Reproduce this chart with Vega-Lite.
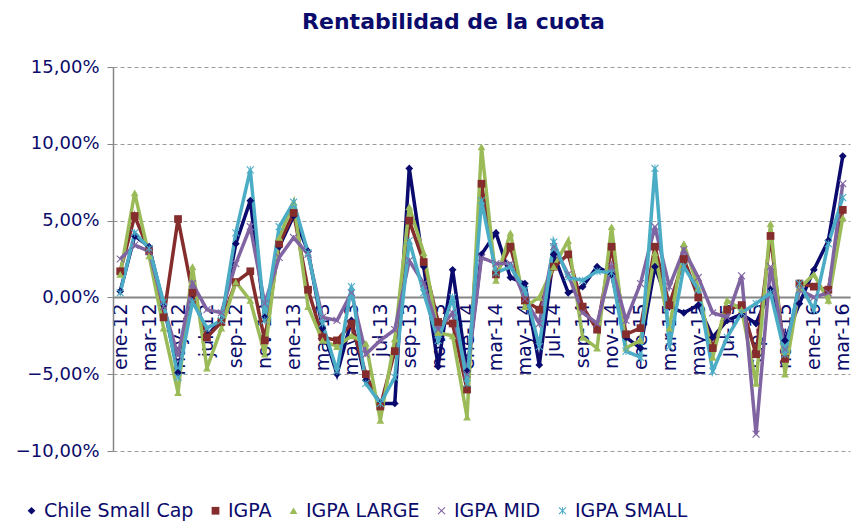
{
  "$schema": "https://vega.github.io/schema/vega-lite/v6.json",
  "width": 737,
  "height": 384,
  "autosize": {"type": "none"},
  "padding": {"left": 113, "top": 67, "right": 2, "bottom": 72},
  "background": "white",
  "title": {
    "text": "Rentabilidad de la cuota",
    "font": "DejaVu Sans",
    "fontSize": 22,
    "fontWeight": "bold",
    "color": "#0b0b6b",
    "anchor": "middle",
    "dx": -28,
    "offset": 24
  },
  "config": {
    "view": {"stroke": null},
    "axis": {"labelFont": "DejaVu Sans", "labelColor": "#0b0b6b"},
    "legend": {"labelFont": "DejaVu Sans", "labelColor": "#0b0b6b"}
  },
  "data": {
    "values": [
      {"m": "ene-12", "Chile Small Cap": 0.4, "IGPA": 1.7, "IGPA LARGE": 1.5, "IGPA MID": 2.5, "IGPA SMALL": 0.3},
      {"m": "feb-12", "Chile Small Cap": 4.0, "IGPA": 5.3, "IGPA LARGE": 6.8, "IGPA MID": 3.4, "IGPA SMALL": 4.2},
      {"m": "mar-12", "Chile Small Cap": 3.3, "IGPA": 3.0, "IGPA LARGE": 2.7, "IGPA MID": 3.0, "IGPA SMALL": 3.2},
      {"m": "abr-12", "Chile Small Cap": -0.5, "IGPA": -1.3, "IGPA LARGE": -2.0, "IGPA MID": -0.6, "IGPA SMALL": -0.3},
      {"m": "may-12", "Chile Small Cap": -4.9, "IGPA": 5.1, "IGPA LARGE": -6.2, "IGPA MID": -3.8, "IGPA SMALL": -5.2},
      {"m": "jun-12", "Chile Small Cap": 0.2, "IGPA": 0.3, "IGPA LARGE": 2.0, "IGPA MID": 0.9, "IGPA SMALL": -0.3},
      {"m": "jul-12", "Chile Small Cap": -2.5, "IGPA": -2.6, "IGPA LARGE": -4.6, "IGPA MID": -0.8, "IGPA SMALL": -2.0},
      {"m": "ago-12", "Chile Small Cap": -1.5, "IGPA": -1.6, "IGPA LARGE": -2.0, "IGPA MID": -1.0, "IGPA SMALL": -1.5},
      {"m": "sep-12", "Chile Small Cap": 3.5, "IGPA": 1.0, "IGPA LARGE": 1.0, "IGPA MID": 2.2, "IGPA SMALL": 4.2},
      {"m": "oct-12", "Chile Small Cap": 6.3, "IGPA": 1.7, "IGPA LARGE": -0.2, "IGPA MID": 4.6, "IGPA SMALL": 8.3},
      {"m": "nov-12", "Chile Small Cap": -1.3, "IGPA": -2.8, "IGPA LARGE": -3.7, "IGPA MID": -0.4, "IGPA SMALL": -1.5},
      {"m": "dic-12", "Chile Small Cap": 3.3, "IGPA": 3.5, "IGPA LARGE": 3.9, "IGPA MID": 2.6, "IGPA SMALL": 4.6},
      {"m": "ene-13", "Chile Small Cap": 5.3, "IGPA": 5.5, "IGPA LARGE": 6.2, "IGPA MID": 3.9, "IGPA SMALL": 6.2},
      {"m": "feb-13", "Chile Small Cap": 3.0, "IGPA": 0.5, "IGPA LARGE": -0.6, "IGPA MID": 2.8, "IGPA SMALL": 2.9},
      {"m": "mar-13", "Chile Small Cap": -2.0, "IGPA": -2.6, "IGPA LARGE": -2.8, "IGPA MID": -1.3, "IGPA SMALL": -1.7},
      {"m": "abr-13", "Chile Small Cap": -5.0, "IGPA": -2.8, "IGPA LARGE": -3.2, "IGPA MID": -1.5, "IGPA SMALL": -4.8},
      {"m": "may-13", "Chile Small Cap": -1.5, "IGPA": -1.7, "IGPA LARGE": -2.5, "IGPA MID": 0.3, "IGPA SMALL": 0.7},
      {"m": "jun-13", "Chile Small Cap": -5.4, "IGPA": -5.0, "IGPA LARGE": -3.0, "IGPA MID": -3.7, "IGPA SMALL": -5.6},
      {"m": "jul-13", "Chile Small Cap": -6.9, "IGPA": -7.1, "IGPA LARGE": -8.0, "IGPA MID": -2.8, "IGPA SMALL": -6.9},
      {"m": "ago-13", "Chile Small Cap": -6.9, "IGPA": -3.5, "IGPA LARGE": -2.7, "IGPA MID": -2.1, "IGPA SMALL": -5.2},
      {"m": "sep-13", "Chile Small Cap": 8.4, "IGPA": 5.0, "IGPA LARGE": 5.9, "IGPA MID": 2.4, "IGPA SMALL": 3.7},
      {"m": "oct-13", "Chile Small Cap": 2.0, "IGPA": 2.3, "IGPA LARGE": 2.9, "IGPA MID": 0.9, "IGPA SMALL": 0.3},
      {"m": "nov-13", "Chile Small Cap": -4.5, "IGPA": -1.6, "IGPA LARGE": -2.3, "IGPA MID": -2.1, "IGPA SMALL": -2.8},
      {"m": "dic-13", "Chile Small Cap": 1.8, "IGPA": -1.7, "IGPA LARGE": -2.5, "IGPA MID": -1.0, "IGPA SMALL": 0.0},
      {"m": "ene-14", "Chile Small Cap": -4.8, "IGPA": -6.0, "IGPA LARGE": -7.8, "IGPA MID": -5.0, "IGPA SMALL": -5.6},
      {"m": "feb-14", "Chile Small Cap": 2.8, "IGPA": 7.4, "IGPA LARGE": 9.8, "IGPA MID": 2.6, "IGPA SMALL": 6.3},
      {"m": "mar-14", "Chile Small Cap": 4.2, "IGPA": 1.5, "IGPA LARGE": 1.1, "IGPA MID": 2.2, "IGPA SMALL": 1.6},
      {"m": "abr-14", "Chile Small Cap": 1.3, "IGPA": 3.3, "IGPA LARGE": 4.2, "IGPA MID": 2.2, "IGPA SMALL": 2.0},
      {"m": "may-14", "Chile Small Cap": 0.9, "IGPA": -0.2, "IGPA LARGE": -0.6, "IGPA MID": -0.1, "IGPA SMALL": 0.5},
      {"m": "jun-14", "Chile Small Cap": -4.4, "IGPA": -0.8, "IGPA LARGE": 0.0, "IGPA MID": -1.7, "IGPA SMALL": -3.2},
      {"m": "jul-14", "Chile Small Cap": 2.8, "IGPA": 2.0, "IGPA LARGE": 2.0, "IGPA MID": 3.3, "IGPA SMALL": 3.6},
      {"m": "ago-14", "Chile Small Cap": 0.3, "IGPA": 2.8, "IGPA LARGE": 3.7, "IGPA MID": 1.5, "IGPA SMALL": 1.3},
      {"m": "sep-14", "Chile Small Cap": 0.7, "IGPA": -0.6, "IGPA LARGE": -2.6, "IGPA MID": -1.0, "IGPA SMALL": 1.1},
      {"m": "oct-14", "Chile Small Cap": 2.0, "IGPA": -2.1, "IGPA LARGE": -3.3, "IGPA MID": -1.7, "IGPA SMALL": 1.7},
      {"m": "nov-14", "Chile Small Cap": 1.5, "IGPA": 3.3, "IGPA LARGE": 4.6, "IGPA MID": 2.0, "IGPA SMALL": 1.6},
      {"m": "dic-14", "Chile Small Cap": -2.6, "IGPA": -2.4, "IGPA LARGE": -3.3, "IGPA MID": -1.5, "IGPA SMALL": -3.5},
      {"m": "ene-15", "Chile Small Cap": -3.3, "IGPA": -2.0, "IGPA LARGE": -2.8, "IGPA MID": 0.9, "IGPA SMALL": -3.9},
      {"m": "feb-15", "Chile Small Cap": 2.0, "IGPA": 3.3, "IGPA LARGE": 2.9, "IGPA MID": 4.6, "IGPA SMALL": 8.4},
      {"m": "mar-15", "Chile Small Cap": -0.6, "IGPA": -0.5, "IGPA LARGE": -2.0, "IGPA MID": 0.7, "IGPA SMALL": -3.2},
      {"m": "abr-15", "Chile Small Cap": -1.0, "IGPA": 2.5, "IGPA LARGE": 3.5, "IGPA MID": 3.1, "IGPA SMALL": 2.0},
      {"m": "may-15", "Chile Small Cap": -0.5, "IGPA": 0.0, "IGPA LARGE": 0.6, "IGPA MID": 1.3, "IGPA SMALL": 0.5},
      {"m": "jun-15", "Chile Small Cap": -2.6, "IGPA": -3.3, "IGPA LARGE": -3.9, "IGPA MID": -1.0, "IGPA SMALL": -4.8},
      {"m": "jul-15", "Chile Small Cap": -1.5, "IGPA": -0.8, "IGPA LARGE": -0.2, "IGPA MID": -1.3, "IGPA SMALL": -2.6},
      {"m": "ago-15", "Chile Small Cap": -1.1, "IGPA": -0.5, "IGPA LARGE": -0.8, "IGPA MID": 1.4, "IGPA SMALL": -1.0},
      {"m": "sep-15", "Chile Small Cap": -1.7, "IGPA": -3.7, "IGPA LARGE": -5.6, "IGPA MID": -8.9, "IGPA SMALL": -0.4},
      {"m": "oct-15", "Chile Small Cap": 0.5, "IGPA": 4.0, "IGPA LARGE": 4.8, "IGPA MID": 2.0, "IGPA SMALL": 0.3},
      {"m": "nov-15", "Chile Small Cap": -2.8, "IGPA": -4.0, "IGPA LARGE": -5.0, "IGPA MID": -3.4, "IGPA SMALL": -3.7},
      {"m": "dic-15", "Chile Small Cap": -0.4, "IGPA": 0.9, "IGPA LARGE": 0.6, "IGPA MID": 0.5, "IGPA SMALL": 0.9},
      {"m": "ene-16", "Chile Small Cap": 1.8, "IGPA": 0.7, "IGPA LARGE": 1.5, "IGPA MID": 0.0, "IGPA SMALL": -0.8},
      {"m": "feb-16", "Chile Small Cap": 3.7, "IGPA": 0.5, "IGPA LARGE": -0.2, "IGPA MID": 0.3, "IGPA SMALL": 3.5},
      {"m": "mar-16", "Chile Small Cap": 9.2, "IGPA": 5.7, "IGPA LARGE": 5.2, "IGPA MID": 7.4, "IGPA SMALL": 6.5}
    ]
  },
  "encoding": {
    "x": {
      "field": "m",
      "type": "ordinal",
      "sort": null,
      "scale": {"type": "point", "padding": 0.5},
      "axis": {
        "title": null,
        "values": ["ene-12", "mar-12", "may-12", "jul-12", "sep-12", "nov-12", "ene-13", "mar-13", "may-13", "jul-13", "sep-13", "nov-13", "ene-14", "mar-14", "may-14", "jul-14", "sep-14", "nov-14", "ene-15", "mar-15", "may-15", "jul-15", "sep-15", "nov-15", "ene-16", "mar-16"],
        "labelAngle": -90,
        "labelFontSize": 19,
        "labelPadding": 6,
        "ticks": false,
        "offset": -154,
        "domainColor": "#868686",
        "domainWidth": 2,
        "grid": false,
        "zindex": 0
      }
    },
    "y": {
      "field": "valor",
      "type": "quantitative",
      "scale": {"domain": [-10, 15], "nice": false},
      "axis": {
        "title": null,
        "values": [-10, -5, 0, 5, 10, 15],
        "labelExpr": "replace(format(datum.value, '.2f'), '.', ',') + '%'",
        "labelFontSize": 18,
        "labelPadding": 8,
        "tickSize": 6,
        "tickColor": "#868686",
        "domainColor": "#868686",
        "domainWidth": 1.5,
        "grid": true,
        "gridColor": "#9a9a9a",
        "gridDash": [4, 3],
        "gridWidth": 1,
        "zindex": 0
      }
    }
  },
  "layer": [
    {
      "transform": [
        {"fold": ["Chile Small Cap", "IGPA", "IGPA LARGE", "IGPA MID", "IGPA SMALL"], "as": ["serie", "valor"]}
      ],
      "mark": {"type": "line", "strokeWidth": 3.5},
      "encoding": {
        "color": {
          "field": "serie",
          "type": "nominal",
          "scale": {
            "domain": ["Chile Small Cap", "IGPA", "IGPA LARGE", "IGPA MID", "IGPA SMALL"],
            "range": ["#0a0a6e", "#852c2c", "#9bbb59", "#8064a2", "#4bacc6"]
          },
          "legend": {
            "title": null,
            "orient": "none",
            "legendX": -91,
            "legendY": 434,
            "direction": "horizontal",
            "columns": 5,
            "columnPadding": 12,
            "symbolType": "stroke",
            "symbolSize": 2500,
            "symbolStrokeWidth": 0,
            "labelFontSize": 19,
            "labelOffset": 3,
            "encode": {
              "symbols": {
                "update": {
                  "shape": {"signal": "datum.value == 'Chile Small Cap' ? 'M-1,-0.08L1,-0.08L1,0.08L-1,0.08ZM0,-0.2L0.14,0L0,0.2L-0.14,0Z' : datum.value == 'IGPA' ? 'M-1,-0.08L1,-0.08L1,0.08L-1,0.08ZM-0.19,-0.19L0.19,-0.19L0.19,0.19L-0.19,0.19Z' : datum.value == 'IGPA LARGE' ? 'M-1,-0.08L1,-0.08L1,0.08L-1,0.08ZM0,-0.26L0.24,0.16L-0.24,0.16Z' : datum.value == 'IGPA MID' ? 'M-1,-0.08L1,-0.08L1,0.08L-1,0.08ZM-0.2,-0.16L-0.16,-0.2L0,-0.04L0.16,-0.2L0.2,-0.16L0.04,0L0.2,0.16L0.16,0.2L0,0.04L-0.16,0.2L-0.2,0.16L-0.04,0Z' : 'M-1,-0.08L1,-0.08L1,0.08L-1,0.08ZM-0.2,-0.16L-0.16,-0.2L0,-0.04L0.16,-0.2L0.2,-0.16L0.04,0L0.2,0.16L0.16,0.2L0,0.04L-0.16,0.2L-0.2,0.16L-0.04,0ZM-0.03,-0.2L0.03,-0.2L0.03,0.2L-0.03,0.2Z'"},
                  "size": {"value": 2500},
                  "fill": {"signal": "scale('color', datum.value)"},
                  "fillOpacity": {"value": 1},
                  "stroke": {"value": "transparent"},
                  "strokeWidth": {"value": 0},
                  "opacity": {"value": 1}
                }
              }
            }
          }
        }
      }
    },
    {
      "transform": [
        {"fold": ["Chile Small Cap", "IGPA", "IGPA LARGE", "IGPA MID", "IGPA SMALL"], "as": ["serieP", "valor"]}
      ],
      "mark": {"type": "point", "filled": true, "opacity": 1},
      "encoding": {
        "fill": {
          "field": "serieP",
          "type": "nominal",
          "scale": {
            "domain": ["Chile Small Cap", "IGPA", "IGPA LARGE", "IGPA MID", "IGPA SMALL"],
            "range": ["#0a0a6e", "#852c2c", "#9bbb59", "#8064a2", "#4bacc6"]
          },
          "legend": null
        },
        "shape": {
          "field": "serieP",
          "type": "nominal",
          "scale": {
            "domain": ["Chile Small Cap", "IGPA", "IGPA LARGE", "IGPA MID", "IGPA SMALL"],
            "range": ["diamond", "square", "triangle-up", "M-1,-0.8L-0.8,-1L0,-0.2L0.8,-1L1,-0.8L0.2,0L1,0.8L0.8,1L0,0.2L-0.8,1L-1,0.8L-0.2,0Z", "M-1,-0.8L-0.8,-1L0,-0.2L0.8,-1L1,-0.8L0.2,0L1,0.8L0.8,1L0,0.2L-0.8,1L-1,0.8L-0.2,0ZM-0.12,-1L0.12,-1L0.12,1L-0.12,1Z"]
          },
          "legend": null
        },
        "size": {
          "field": "serieP",
          "type": "nominal",
          "scale": {
            "domain": ["Chile Small Cap", "IGPA", "IGPA LARGE", "IGPA MID", "IGPA SMALL"],
            "range": [60, 60, 110, 90, 110]
          },
          "legend": null
        }
      }
    }
  ]
}
